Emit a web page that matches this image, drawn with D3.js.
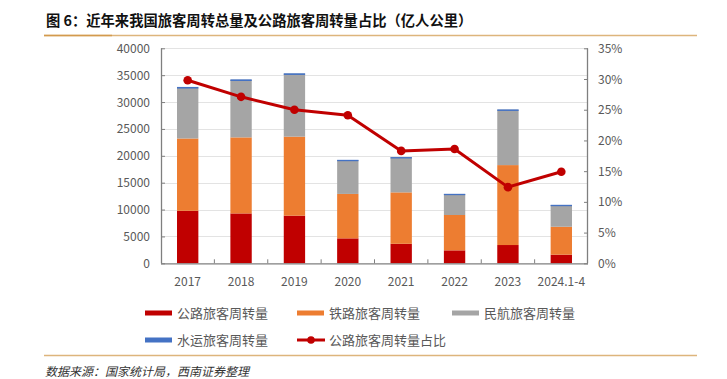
<!DOCTYPE html>
<html>
<head>
<meta charset="utf-8">
<script src="https://cdn.jsdelivr.net/npm/d3@7"></script>
<style>
  html, body { margin: 0; padding: 0; background: #fff; }
  svg { display: block; }
</style>
</head>
<body>
<svg id="chart" width="727" height="379"></svg>
<script>
const categories = ['2017', '2018', '2019', '2020', '2021', '2022', '2023', '2024.1-4'];
const roadValues = [9765, 9280, 8857, 4641, 3628, 2408, 3400, 1600];
const railValues = [13457, 14147, 14707, 8266, 9568, 6578, 14870, 5200];
const airValues = [9513, 10712, 11705, 6311, 6530, 3914, 10300, 4050];
const waterValues = [78, 80, 80, 33, 33, 23, 60, 30];
const roadShare = [29.8, 27.1, 25.0, 24.1, 18.3, 18.6, 12.4, 14.9];
const leftTicks = [0, 5000, 10000, 15000, 20000, 25000, 30000, 35000, 40000];
const rightTicks = [0, 5, 10, 15, 20, 25, 30, 35];
const seriesNames = ['公路旅客周转量', '铁路旅客周转量', '民航旅客周转量', '水运旅客周转量'];
const lineName = '公路旅客周转量占比';
const titleText = '图 6：近年来我国旅客周转总量及公路旅客周转量占比（亿人公里）';
const sourceText = '数据来源：国家统计局，西南证券整理';

const colors = ['#C00000', '#ED7D31', '#A5A5A5', '#4472C4'];
const lineColor = '#C00000';
const textColor = '#595959';
const font = '"Noto Sans CJK SC", "Noto Sans", sans-serif';

const svg = d3.select('#chart');

// Title and decorative rules
svg.append('text').attr('x', 46).attr('y', 26)
  .attr('font-family', font).attr('font-size', 14.3).attr('font-weight', 'bold')
  .attr('fill', '#111').text(titleText);
svg.append('line').attr('x1', 44).attr('x2', 697).attr('y1', 35.5).attr('y2', 35.5)
  .attr('stroke', '#DDB57C').attr('stroke-width', 1.5);
svg.append('line').attr('x1', 44).attr('x2', 112).attr('y1', 35.5).attr('y2', 35.5)
  .attr('stroke', '#D39A4E').attr('stroke-width', 1.5);
svg.append('line').attr('x1', 44).attr('x2', 697).attr('y1', 355.5).attr('y2', 355.5)
  .attr('stroke', '#DDB57C').attr('stroke-width', 1.5);
svg.append('text').attr('x', 45).attr('y', 376)
  .attr('font-family', font).attr('font-size', 12).attr('font-style', 'italic')
  .attr('fill', '#333').text(sourceText);

// Scales
const x0 = 161, x1 = 588, yTop = 48.3, yBot = 263.3;
const x = d3.scaleBand().domain(categories).range([x0, x1]).paddingInner(0.6).paddingOuter(0.3);
const xb = d3.scaleBand().domain(categories).range([x0, x1]);
const yL = d3.scaleLinear().domain([0, 40000]).range([yBot, yTop]);
const yR = d3.scaleLinear().domain([0, 35]).range([yBot, yTop]);

// Gridlines
svg.append('g').selectAll('line').data(leftTicks.filter(d => d > 0)).join('line')
  .attr('x1', x0).attr('x2', x1)
  .attr('y1', d => Math.round(yL(d)) + 0.5).attr('y2', d => Math.round(yL(d)) + 0.5)
  .attr('stroke', '#E3E3E3').attr('stroke-width', 1.2);

// Stacked bars
const table = categories.map((c, i) => ({
  cat: c, s0: roadValues[i], s1: railValues[i], s2: airValues[i], s3: waterValues[i]
}));
const stack = d3.stack().keys(['s0', 's1', 's2', 's3'])(table);
svg.append('g').selectAll('g').data(stack).join('g')
  .attr('fill', (d, i) => colors[i])
  .selectAll('rect').data(d => d).join('rect')
  .attr('x', d => x(d.data.cat))
  .attr('width', x.bandwidth())
  .attr('y', d => yL(d[1]))
  .attr('height', d => Math.max(0, yL(d[0]) - yL(d[1])) + (d[1] - d[0] < 200 ? 1.2 : 0));

// Axes
const axisColor = '#7F7F7F';
const gL = svg.append('g').attr('transform', `translate(${x0},0)`)
  .call(d3.axisRight(yL).tickValues(leftTicks).tickSize(4).tickFormat(''));
const gR = svg.append('g').attr('transform', `translate(${x1},0)`)
  .call(d3.axisLeft(yR).tickValues(rightTicks).tickSize(4).tickFormat(''));
const boundaries = categories.slice(1);
const gB = svg.append('g').attr('transform', `translate(0,${yBot})`)
  .call(d3.axisTop(xb).tickValues(boundaries).tickSize(4).tickFormat(''));
gB.selectAll('.tick').attr('transform', d => `translate(${xb(d)},0)`);
[gL, gR, gB].forEach(g => {
  g.selectAll('path').attr('stroke', axisColor).attr('stroke-width', 1.3);
  g.selectAll('line').attr('stroke', axisColor).attr('stroke-width', 1);
});
gL.select('.domain').attr('d', `M0.5,${yTop}V${yBot}`);
gR.select('.domain').attr('d', `M-0.5,${yTop}V${yBot}`);
gB.select('.domain').attr('d', `M${x0},0.5H${x1}`);

// Tick labels
svg.append('g').selectAll('text').data(leftTicks).join('text')
  .attr('x', 150).attr('y', d => yL(d) + 4.5).attr('text-anchor', 'end')
  .attr('font-family', font).attr('font-size', 12).attr('fill', textColor)
  .text(d => d);
svg.append('g').selectAll('text').data(rightTicks).join('text')
  .attr('x', 598).attr('y', d => yR(d) + 4.5).attr('text-anchor', 'start')
  .attr('font-family', font).attr('font-size', 12).attr('fill', textColor)
  .text(d => d + '%');
svg.append('g').selectAll('text').data(categories).join('text')
  .attr('x', d => x(d) + x.bandwidth() / 2).attr('y', 286).attr('text-anchor', 'middle')
  .attr('font-family', font).attr('font-size', 12).attr('fill', textColor)
  .text(d => d);

// Share line
const line = d3.line().x((d, i) => x(categories[i]) + x.bandwidth() / 2).y(d => yR(d));
svg.append('path').datum(roadShare).attr('d', line)
  .attr('fill', 'none').attr('stroke', lineColor).attr('stroke-width', 3).attr('stroke-linejoin', 'round');
svg.append('g').selectAll('circle').data(roadShare).join('circle')
  .attr('cx', (d, i) => x(categories[i]) + x.bandwidth() / 2).attr('cy', d => yR(d))
  .attr('r', 4.3).attr('fill', lineColor);

// Legend
const legendItems = [
  { name: seriesNames[0], color: colors[0], x: 145, y: 313, type: 'rect' },
  { name: seriesNames[1], color: colors[1], x: 297, y: 313, type: 'rect' },
  { name: seriesNames[2], color: colors[2], x: 452, y: 313, type: 'rect' },
  { name: seriesNames[3], color: colors[3], x: 145, y: 340, type: 'rect' },
  { name: lineName, color: lineColor, x: 297, y: 340, type: 'line' }
];
const lg = svg.append('g').selectAll('g').data(legendItems).join('g')
  .attr('transform', d => `translate(${d.x},${d.y})`);
lg.filter(d => d.type === 'rect').append('rect')
  .attr('x', 0).attr('y', -2.5).attr('width', 27).attr('height', 5).attr('fill', d => d.color);
lg.filter(d => d.type === 'line').append('line')
  .attr('x1', 0).attr('x2', 28).attr('y1', 0).attr('y2', 0)
  .attr('stroke', d => d.color).attr('stroke-width', 3);
lg.filter(d => d.type === 'line').append('circle')
  .attr('cx', 14).attr('cy', 0).attr('r', 3.8).attr('fill', d => d.color);
lg.append('text').attr('x', 32).attr('y', 4.8)
  .attr('font-family', font).attr('font-size', 13).attr('fill', textColor)
  .text(d => d.name);
</script>
</body>
</html>
